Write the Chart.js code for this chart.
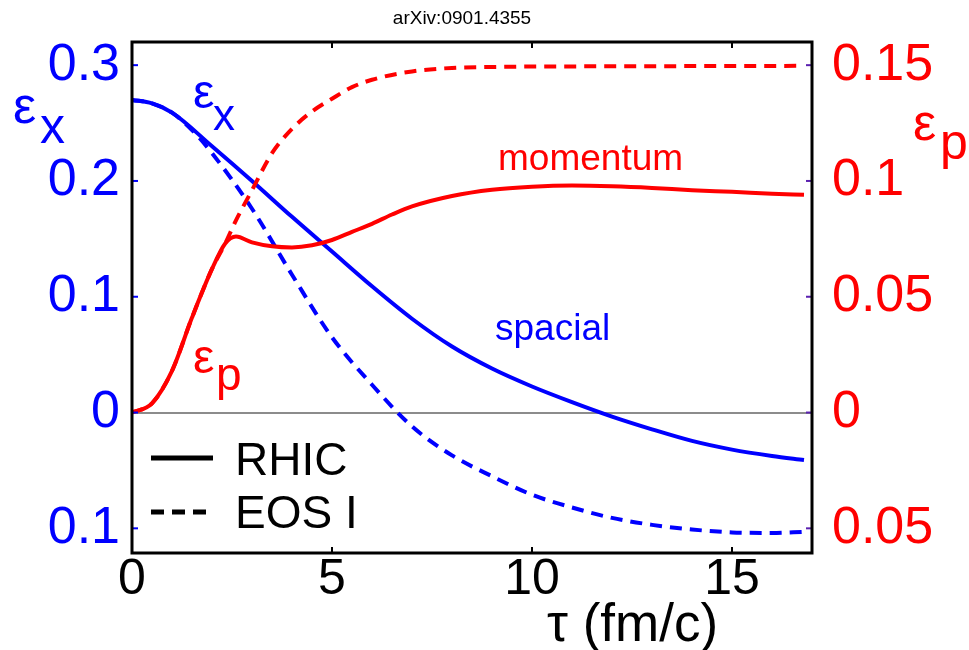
<!DOCTYPE html>
<html>
<head>
<meta charset="utf-8">
<script src="https://cdn.jsdelivr.net/npm/chart.js@4.4.1/dist/chart.umd.min.js"></script>
<style>
    body { margin: 0; background: #fff; }
    #wrap { width: 969px; height: 650px; }
</style>
</head>
<body>
<div id="wrap"><canvas id="chart1"></canvas></div>
<script>
const ctx = document.getElementById("chart1").getContext("2d");

Chart.defaults.font.family = "'Liberation Sans', Arial, sans-serif"

// spatial eccentricity, RHIC (solid blue)
const tauRhicX = [0, 0.5, 1, 2, 3, 4, 5, 6, 7, 8, 9, 10, 11, 12, 13, 14, 15, 16, 16.8];
const rhicX = [0.270, 0.267, 0.259, 0.230, 0.200, 0.169, 0.139, 0.109, 0.081, 0.057, 0.038, 0.0225, 0.009, -0.0035, -0.0145, -0.0245, -0.032, -0.0375, -0.041];

// spatial eccentricity, EOS I (dashed blue)
const tauEosX = [0, 0.5, 1, 1.5, 2, 3, 4, 5, 6, 7, 8, 9, 10, 11, 12, 13, 14, 15, 16, 16.8];
const eosX = [0.270, 0.267, 0.259, 0.244, 0.224, 0.176, 0.119, 0.065, 0.024, -0.012, -0.037, -0.055, -0.071, -0.082, -0.091, -0.097, -0.101, -0.1035, -0.104, -0.103];

// momentum anisotropy, RHIC (solid red, right axis)
const tauRhicP = [0, 0.5, 1, 1.5, 2, 2.33, 2.6, 3, 3.5, 4, 4.5, 5, 5.5, 6, 6.5, 7, 8, 9, 10, 11, 12, 13, 14, 15, 16, 16.8];
const rhicP = [0, 0.004, 0.018, 0.041, 0.062, 0.073, 0.076, 0.0735, 0.0718, 0.0713, 0.0722, 0.0745, 0.078, 0.0815, 0.0855, 0.089, 0.0935, 0.0962, 0.0975, 0.098, 0.0977, 0.097, 0.096, 0.0953, 0.0945, 0.094];

// momentum anisotropy, EOS I (dashed red, right axis)
const tauEosP = [0, 0.5, 1, 1.5, 2, 2.33, 2.6, 3, 3.5, 4, 4.5, 5, 5.5, 6, 7, 8, 9, 10, 12, 14, 16.8];
const eosP = [0, 0.004, 0.018, 0.041, 0.062, 0.073, 0.083, 0.096, 0.112, 0.1225, 0.130, 0.1355, 0.1405, 0.1437, 0.1473, 0.1488, 0.1492, 0.1494, 0.1495, 0.1496, 0.1497];

// ticks
const xTicks = [0, 5, 10, 15];
const leftTicks = [-0.1, 0, 0.1, 0.2, 0.3];
const leftTickLabels = ['0.1', '0', '0.1', '0.2', '0.3'];
const rightTicks = [-0.05, 0, 0.05, 0.1, 0.15];
const rightTickLabels = ['0.05', '0', '0.05', '0.1', '0.15'];

const BLUE = '#0000ff';
const RED = '#ff0000';
const FONT = "'Liberation Sans', Arial, sans-serif";

const pts = (xs, ys) => xs.map((x, i) => ({ x: x, y: ys[i] }));

const lineStyle = {
    borderWidth: 4,
    pointRadius: 0,
    fill: false,
    cubicInterpolationMode: 'monotone',
};

// frame, inner tick marks, legend and labels
const decorations = {
    id: 'decorations',
    afterDatasetsDraw(chart) {
        const c = chart.ctx;
        const a = chart.chartArea;
        const { x, y, y2 } = chart.scales;
        c.save();

        // inward tick marks
        c.lineWidth = 2;
        c.strokeStyle = '#000';
        xTicks.forEach(t => {
            if (t === 0) return;
            const px = x.getPixelForValue(t);
            c.beginPath();
            c.moveTo(px, a.bottom); c.lineTo(px, a.bottom - 6);
            c.moveTo(px, a.top); c.lineTo(px, a.top + 6);
            c.stroke();
        });
        c.strokeStyle = BLUE;
        leftTicks.forEach(t => {
            const py = y.getPixelForValue(t);
            c.beginPath(); c.moveTo(a.left, py); c.lineTo(a.left + 6, py); c.stroke();
        });
        c.strokeStyle = '#5a20b0';
        rightTicks.forEach(t => {
            const py = y2.getPixelForValue(t);
            c.beginPath(); c.moveTo(a.right, py); c.lineTo(a.right - 6, py); c.stroke();
        });

        // frame
        c.strokeStyle = '#000';
        c.lineWidth = 3;
        c.strokeRect(a.left, a.top, a.right - a.left, a.bottom - a.top);

        // legend
        c.lineWidth = 5;
        c.beginPath(); c.moveTo(151, 458); c.lineTo(213, 458); c.stroke();
        c.setLineDash([13, 8]);
        c.beginPath(); c.moveTo(151, 512); c.lineTo(213, 512); c.stroke();
        c.setLineDash([]);
        c.fillStyle = '#000';
        c.textAlign = 'left';
        c.textBaseline = 'alphabetic';
        c.font = "46px " + FONT;
        c.fillText('RHIC', 235, 475);
        c.fillText('EOS I', 235, 528);

        // axis symbols
        const sym = (col, main, sub, px, py, size, subSize, dx, dy) => {
            c.fillStyle = col;
            c.font = size + "px " + FONT;
            c.fillText(main, px, py);
            c.font = subSize + "px " + FONT;
            c.fillText(sub, px + dx, py + dy);
        };
        sym(BLUE, 'ε', 'x', 13, 123, 52, 50, 27, 20);
        sym(RED, 'ε', 'p', 913, 140, 52, 50, 27, 19);
        sym(BLUE, 'ε', 'x', 193, 108, 48, 44, 20, 22);
        sym(RED, 'ε', 'p', 193, 373, 48, 46, 23, 17);

        c.font = "37px " + FONT;
        c.fillStyle = RED;
        c.fillText('momentum', 498, 170);
        c.fillStyle = BLUE;
        c.fillText('spacial', 495, 340);

        c.fillStyle = '#000';
        c.font = "53px " + FONT;
        c.fillText('τ (fm/c)', 547, 641);
        c.font = "19px " + FONT;
        c.textAlign = 'center';
        c.fillText('arXiv:0901.4355', 462, 24);
        c.restore();
    }
};

const config = {
    type: 'line',
    data: {
        datasets: [
            { ...lineStyle, label: 'εp EOS I', data: pts(tauEosP, eosP), yAxisID: 'y2', borderColor: RED, borderDash: [12, 8] },
            { ...lineStyle, label: 'εp RHIC', data: pts(tauRhicP, rhicP), yAxisID: 'y2', borderColor: RED },
            { ...lineStyle, label: 'εx RHIC', data: pts(tauRhicX, rhicX), yAxisID: 'y', borderColor: BLUE },
            { ...lineStyle, label: 'εx EOS I', data: pts(tauEosX, eosX), yAxisID: 'y', borderColor: BLUE, borderDash: [12, 8] },
        ],
    },
    options: {
        responsive: true,
        maintainAspectRatio: false,
        animation: false,
        layout: { padding: { top: 42, left: 0, right: 0, bottom: 0 } },
        scales: {
            x: {
                type: 'linear',
                min: 0,
                max: 17,
                afterBuildTicks: s => { s.ticks = xTicks.map(v => ({ value: v })); },
                afterFit: s => { s.height = 97; s.paddingLeft = 0; s.paddingRight = 0; },
                border: { display: false },
                grid: { display: false },
                ticks: {
                    color: '#000',
                    font: { size: 50 },
                    padding: -11,
                    maxRotation: 0,
                    autoSkip: false,
                },
            },
            y: {
                position: 'left',
                min: -0.1213,
                max: 0.32,
                afterBuildTicks: s => { s.ticks = leftTicks.map(v => ({ value: v })); },
                afterFit: s => { s.width = 132; s.paddingTop = 0; s.paddingBottom = 0; },
                border: { display: false },
                grid: {
                    drawTicks: false,
                    color: c => c.tick && c.tick.value === 0 ? '#8c8c8c' : 'rgba(0,0,0,0)',
                    lineWidth: 2,
                },
                ticks: {
                    color: BLUE,
                    font: { size: 52 },
                    padding: 12,
                    callback: (v, i) => leftTickLabels[i],
                },
            },
            y2: {
                position: 'right',
                min: -0.06065,
                max: 0.16,
                afterBuildTicks: s => { s.ticks = rightTicks.map(v => ({ value: v })); },
                afterFit: s => { s.width = 157; s.paddingTop = 0; s.paddingBottom = 0; },
                border: { display: false },
                grid: { display: false, drawTicks: false },
                ticks: {
                    color: RED,
                    font: { size: 52 },
                    padding: 20,
                    callback: (v, i) => rightTickLabels[i],
                },
            },
        },
        plugins: {
            legend: { display: false },
            tooltip: { enabled: false },
        },
    },
    plugins: [decorations],
};

const newChart = new Chart(ctx, config);
</script>
</body>
</html>
